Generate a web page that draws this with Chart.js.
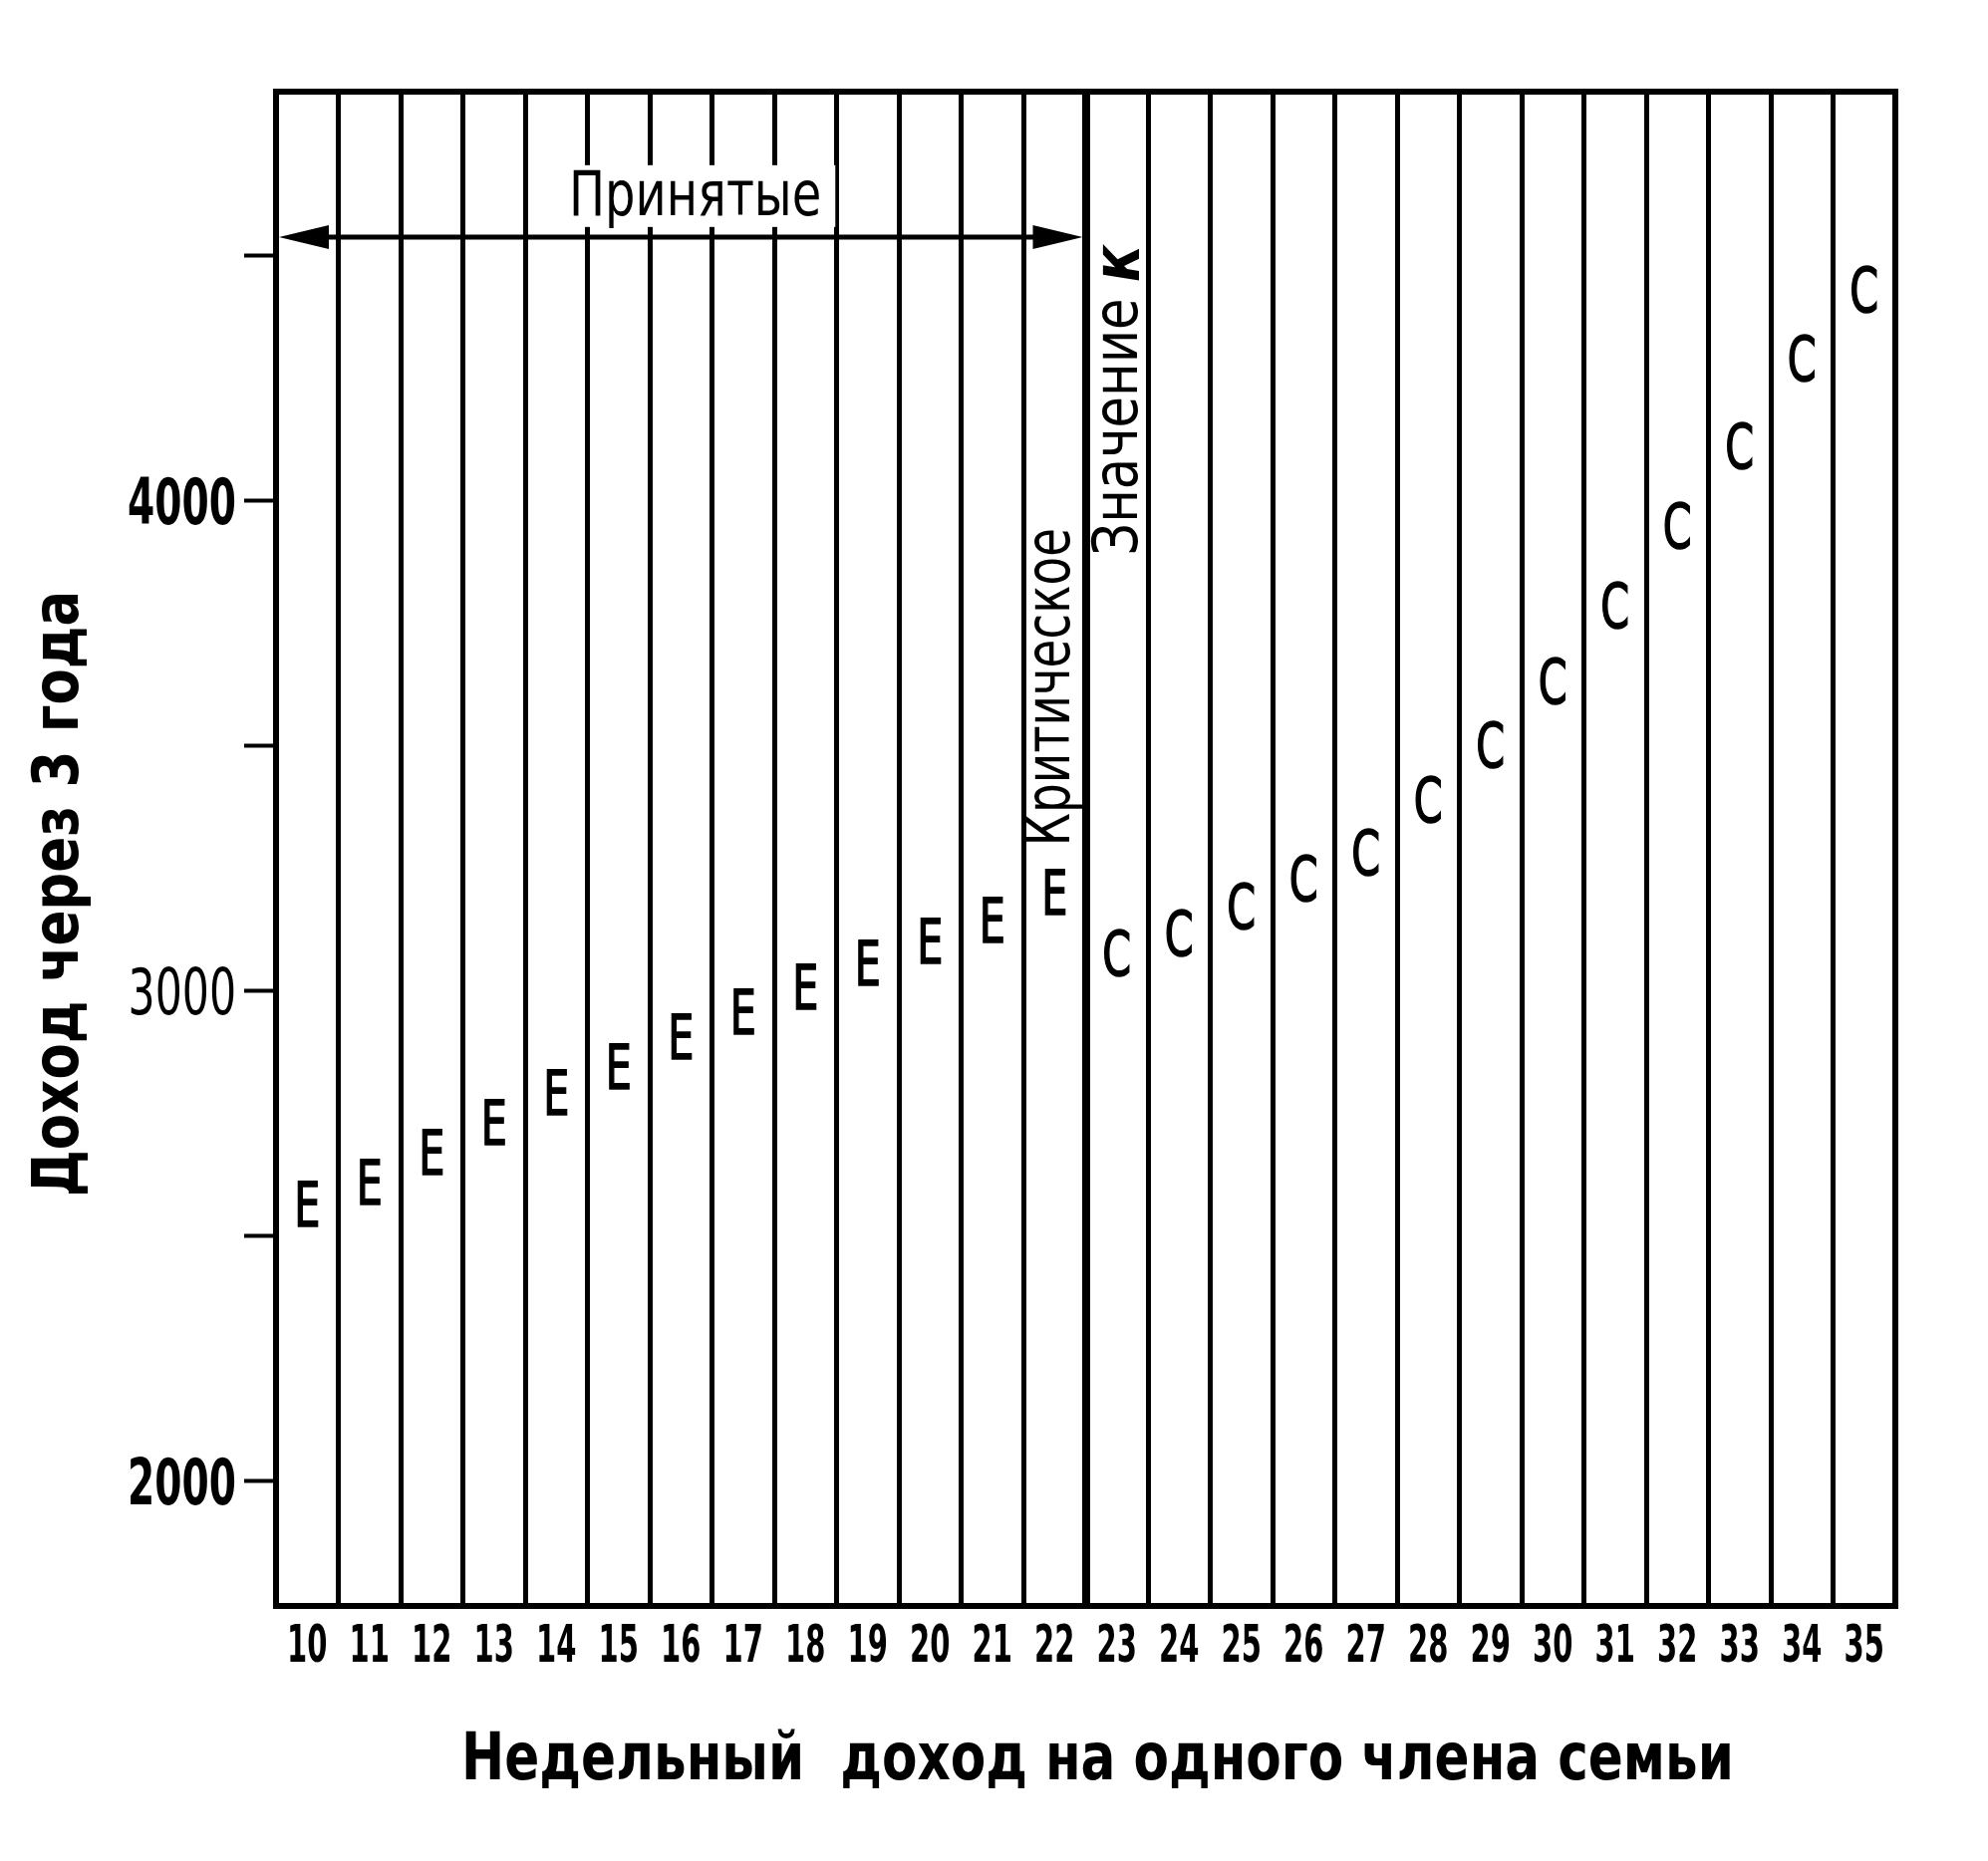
<!DOCTYPE html>
<html>
  <head>
    <title>Доход через 3 года</title>
    <script src="https://cdn.jsdelivr.net/npm/chart.js"></script>
    <style>
      body { margin: 0; background: #fff; }
      #wrap { width: 1995px; height: 1868px; }
    </style>
  </head>
  <body>
    <div id="wrap"><canvas id="incomeChart"></canvas></div>
    <script>
      // Weekly income per family member (categories)
      const incomeLabels = ["10", "11", "12", "13", "14", "15", "16", "17", "18", "19", "20", "21", "22",
        "23", "24", "25", "26", "27", "28", "29", "30", "31", "32", "33", "34", "35"];

      // Income after 3 years, "E" marks (accepted) and "C" marks
      const eValues = [2565, 2610, 2671, 2732, 2793, 2845, 2908, 2957, 3008, 3057, 3102, 3144, 3201,
        null, null, null, null, null, null, null, null, null, null, null, null, null];
      const cValues = [null, null, null, null, null, null, null, null, null, null, null, null, null,
        3077, 3118, 3173, 3230, 3283, 3390, 3502, 3632, 3787, 3950, 4112, 4291, 4431];

      // y axis ticks (only thousands get a label)
      const yTickValues = [2000, 2500, 3000, 3500, 4000, 4500];
      const yLabelValues = [2000, 3000, 4000];

      const FONT = "'DejaVu Sans Condensed', 'DejaVu Sans', sans-serif";
      const CAP = 0.729; // cap height of the font, in em

      // text squeezed horizontally, anchored on the middle of its capitals
      function squeezed(ctx, text, x, y, o) {
        ctx.save();
        ctx.font = (o.style || "normal") + " " + (o.weight || "normal") + " " + o.size + "px " + FONT;
        ctx.translate(x, y);
        if (o.rotate) ctx.rotate(o.rotate);
        ctx.scale(o.sx || 1, 1);
        ctx.textAlign = o.align || "center";
        ctx.textBaseline = "alphabetic";
        ctx.fillStyle = "#000";
        ctx.fillText(text, 0, (CAP * o.size) / 2);
        if (o.stroke) {
          ctx.strokeStyle = "#000";
          ctx.lineWidth = o.stroke;
          ctx.strokeText(text, 0, (CAP * o.size) / 2);
        }
        ctx.restore();
      }

      function textWidth(ctx, text, o) {
        ctx.save();
        ctx.font = (o.style || "normal") + " " + (o.weight || "normal") + " " + o.size + "px " + FONT;
        const w = ctx.measureText(text).width * (o.sx || 1);
        ctx.restore();
        return w;
      }

      const letterPlugin = {
        id: "letters",
        afterDatasetsDraw(chart) {
          const ctx = chart.ctx;
          chart.data.datasets.forEach((ds, i) => {
            chart.getDatasetMeta(i).data.forEach((pt, j) => {
              if (ds.data[j] === null) return;
              squeezed(ctx, ds.marker, pt.x, pt.y, { size: 62, sx: 0.74, stroke: 1.6 });
            });
          });
        },
        afterDraw(chart) {
          const { ctx, chartArea } = chart;
          const x = chart.scales.x;
          const y = chart.scales.y;
          ctx.save();
          ctx.strokeStyle = "#000";
          ctx.fillStyle = "#000";
          ctx.lineWidth = 6;
          ctx.strokeRect(chartArea.left, chartArea.top, chartArea.width, chartArea.height);
          ctx.restore();

          // tick labels
          incomeLabels.forEach((lab, i) => {
            squeezed(ctx, lab, x.getPixelForTick(i), chartArea.bottom + 37,
              { size: 52, weight: "bold", sx: 0.62 });
          });
          yLabelValues.forEach((v) => {
            squeezed(ctx, String(v), chartArea.left - 40, y.getPixelForValue(v),
              { size: 64, weight: v === 3000 ? "normal" : "bold", sx: v === 3000 ? 0.74 : 0.68, align: "right" });
          });

          // axis titles
          squeezed(ctx, "Недельный  доход на одного члена семьи",
            (chartArea.left + chartArea.right) / 2 + 12, chartArea.bottom + 150,
            { size: 66, weight: "bold", sx: 0.87 });
          squeezed(ctx, "Доход через 3 года", 55, (chartArea.top + chartArea.bottom) / 2 + 45,
            { size: 64, weight: "bold", sx: 0.92, rotate: -Math.PI / 2 });

          // "Принятые" with white box behind it
          const t = { size: 62, sx: 0.86 };
          const tx = x.getPixelForValue(6.23);
          const ty = y.getPixelForValue(4628);
          const tw = textWidth(ctx, "Принятые", t);
          ctx.save();
          ctx.fillStyle = "#fff";
          ctx.fillRect(tx - tw / 2 - 14, ty - 28, tw + 28, 62);
          ctx.restore();
          squeezed(ctx, "Принятые", tx, ty, t);

          // double arrow across the accepted range
          const ay = y.getPixelForValue(4538);
          const ax1 = x.getPixelForValue(-0.5) + 3;
          const ax2 = x.getPixelForValue(12.5) - 3;
          ctx.save();
          ctx.fillStyle = "#000";
          ctx.strokeStyle = "#000";
          ctx.lineWidth = 5;
          ctx.beginPath();
          ctx.moveTo(ax1 + 40, ay);
          ctx.lineTo(ax2 - 40, ay);
          ctx.stroke();
          ctx.beginPath();
          ctx.moveTo(ax1, ay);
          ctx.lineTo(ax1 + 50, ay - 12);
          ctx.lineTo(ax1 + 50, ay + 12);
          ctx.closePath();
          ctx.fill();
          ctx.beginPath();
          ctx.moveTo(ax2, ay);
          ctx.lineTo(ax2 - 50, ay - 12);
          ctx.lineTo(ax2 - 50, ay + 12);
          ctx.closePath();
          ctx.fill();
          ctx.restore();

          // vertical notes at the critical value
          const bx = x.getPixelForValue(12.5);
          squeezed(ctx, "Критическое", bx - 39, y.getPixelForValue(3620),
            { size: 62, sx: 0.84, rotate: -Math.PI / 2 });

          const n1 = { size: 62, sx: 0.92, align: "left", rotate: -Math.PI / 2 };
          const n2 = { size: 66, sx: 0.92, align: "left", rotate: -Math.PI / 2, style: "italic", weight: "bold" };
          const w1 = textWidth(ctx, "Значение ", n1);
          const w2 = textWidth(ctx, "к", n2);
          const ny = y.getPixelForValue(4205) + (w1 + w2) / 2;
          squeezed(ctx, "Значение ", bx + 29, ny, n1);
          squeezed(ctx, "к", bx + 29, ny - w1, n2);
        },
      };

      const ctx = document.getElementById("incomeChart").getContext("2d");

      new Chart(ctx, {
        type: "line",
        data: {
          labels: incomeLabels,
          datasets: [
            { label: "E", marker: "E", data: eValues, showLine: false, pointRadius: 0 },
            { label: "C", marker: "C", data: cValues, showLine: false, pointRadius: 0 },
          ],
        },
        options: {
          responsive: true,
          maintainAspectRatio: false,
          animation: false,
          layout: {
            padding: { top: 92, right: 93, left: 0, bottom: 0 },
          },
          plugins: {
            legend: { display: false },
            tooltip: { enabled: false },
          },
          scales: {
            x: {
              offset: true,
              afterFit: (axis) => { axis.height = 256; },
              grid: {
                offset: true,
                drawTicks: false,
                color: "#000",
                lineWidth: (c) => (c.index === 13 ? 8 : 5),
              },
              border: { display: true, color: "#000", width: 6 },
              ticks: { display: false, autoSkip: false },
            },
            y: {
              min: 1745,
              max: 4835,
              afterBuildTicks: (axis) => {
                axis.ticks = yTickValues.map((v) => ({ value: v }));
              },
              afterFit: (axis) => { axis.width = 277; },
              grid: {
                drawOnChartArea: false,
                drawTicks: true,
                tickLength: 32,
                tickWidth: 4,
                tickColor: "#000",
              },
              border: { display: true, color: "#000", width: 6 },
              ticks: { display: false },
            },
          },
        },
        plugins: [letterPlugin],
      });
    </script>
  </body>
</html>
